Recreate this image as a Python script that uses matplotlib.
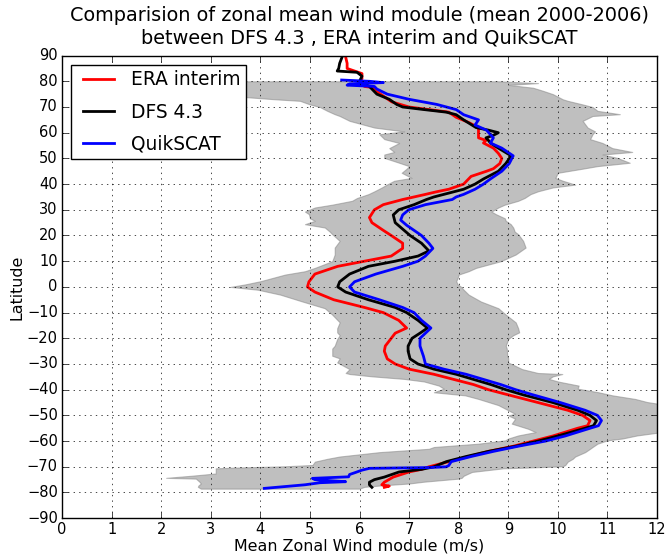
import matplotlib
matplotlib.use('Agg')
import matplotlib.pyplot as plt
import numpy as np

plt.style.use('classic')

# ERA interim zonal mean (lat, m/s)
era_lat = [89.5, 87, 85, 84, 83, 81, 80, 78, 77.5, 76, 74, 72, 70, 69, 68, 66, 64, 62, 60, 58,
           57, 56, 54, 52, 50, 48, 46, 45, 43, 41, 40, 38, 37, 36, 35, 34, 32, 30, 27, 25,
           22, 20, 17, 15, 12, 10, 8, 5, 2, 0, -2, -5, -8, -10, -13, -16, -18, -20, -23, -25,
           -28, -30, -32, -34, -36, -38, -40, -42, -45, -48, -50, -52, -54, -55, -58, -60, -62, -64, -66, -68,
           -70, -71, -72, -74, -76, -77, -77.5, -78]
era_val = [5.72, 5.75, 5.75, 5.9, 6.05, 6.05, 6.0, 6.1, 6.3, 6.35, 6.5, 6.65, 7.0, 7.4, 7.8, 7.95, 8.2, 8.4, 8.4, 8.4,
           8.55, 8.5, 8.7, 8.8, 8.87, 8.83, 8.7, 8.56, 8.25, 8.15, 8.1, 7.8, 7.55, 7.33, 7.1, 6.87, 6.48, 6.3, 6.2, 6.25,
           6.48, 6.64, 6.87, 6.87, 6.64, 6.1, 5.56, 5.1, 4.98, 4.95, 5.1, 5.48, 6.1, 6.48, 6.79, 6.95, 6.72, 6.64, 6.52, 6.5,
           6.56, 6.72, 7.0, 7.5, 7.9, 8.3, 8.6, 9.0, 9.6, 10.2, 10.5, 10.65, 10.6, 10.4, 9.9, 9.5, 9.1, 8.6, 8.2, 7.8,
           7.4, 7.25, 7.0, 6.68, 6.5, 6.45, 6.6, 6.5]

# DFS 4.3
dfs_lat = [89.5, 87, 85, 84, 83.5, 82, 80, 78, 77, 75, 73, 71, 70, 69, 68, 67, 65, 62, 61, 60, 59,
           58, 57, 56, 54, 51, 48, 45, 42, 40, 38, 36, 35, 34, 32, 30, 28, 25, 22, 20, 17,
           14, 12, 10, 8, 5, 2, 0, -2, -5, -8, -10, -13, -16, -18, -20, -23, -25, -28, -30, -32,
           -34, -36, -38, -40, -42, -45, -48, -50, -52, -54, -55, -58, -60, -62, -64, -66, -68, -70, -71, -72,
           -74, -75, -76, -77, -78]
dfs_val = [5.65, 5.6, 5.58, 5.55, 5.95, 6.05, 6.0, 6.2, 6.25, 6.35, 6.6, 6.75, 6.87, 7.3, 7.75, 7.95, 8.1, 8.35, 8.6, 8.8, 8.7,
           8.55, 8.6, 8.64, 8.8, 9.06, 8.95, 8.8, 8.5, 8.33, 8.1, 7.7, 7.5, 7.35, 7.1, 6.79, 6.68, 6.72, 6.9, 7.02, 7.25,
           7.4, 7.18, 6.72, 6.18, 5.8, 5.6, 5.56, 5.72, 6.18, 6.72, 6.95, 7.18, 7.37, 7.22, 7.06, 6.98, 6.98, 7.02, 7.18, 7.5,
           7.95, 8.3, 8.65, 8.95, 9.3, 9.9, 10.4, 10.65, 10.78, 10.72, 10.55, 10.0, 9.6, 9.15, 8.6, 8.15, 7.75, 7.5, 7.25, 6.8,
           6.5, 6.3, 6.2, 6.2, 6.25]

# QuikSCAT
qs_lat = [80.5, 80, 79.5, 79, 78.5, 78, 77, 75, 73, 71, 69, 67, 65, 63, 61, 58, 56, 54, 51, 48,
          45, 42, 40, 38, 36, 35, 34, 32, 30, 28, 26, 24, 22, 20, 17, 15, 12, 10, 8, 5,
          2, 0, -2, -5, -8, -10, -13, -16, -18, -20, -23, -27, -30, -32, -34, -36, -38, -40, -42, -45,
          -48, -50, -52, -54, -55, -58, -60, -62, -64, -66, -68, -69.5, -70, -70.3, -70.6, -71.3, -72.2, -73, -73.9, -74.5,
          -75, -75.8, -76.2, -77, -78.4]
qs_val = [5.64, 6.2, 6.48, 5.8, 5.75, 6.3, 6.35, 6.56, 7.0, 7.56, 7.95, 8.1, 8.4, 8.33, 8.56, 8.7, 8.64, 8.87, 9.1, 9.02,
          8.87, 8.64, 8.5, 8.33, 8.1, 7.95, 7.87, 7.33, 6.99, 6.87, 6.83, 6.95, 7.1, 7.25, 7.4, 7.48, 7.33, 7.18, 6.87, 6.33,
          5.9, 5.8, 5.9, 6.4, 6.87, 7.1, 7.25, 7.44, 7.33, 7.22, 7.22, 7.29, 7.33, 7.7, 8.15, 8.5, 8.85, 9.15, 9.5, 10.05,
          10.55, 10.8, 10.88, 10.82, 10.65, 10.15, 9.75, 9.2, 8.7, 8.25, 7.85, 7.8, 7.75, 7.4, 6.2, 6.05, 5.92, 5.8, 5.78, 5.05,
          5.1, 5.72, 5.2, 4.9, 4.08]

# spread envelope (grey band)
band_lat = [80.0, 79.3, 78.6, 77.5, 76.3, 75.0, 74.0, 73.0, 72.4, 71.0, 70.0, 68.5, 67.2, 66.5, 64.6, 62.0, 60.5, 59.4, 57.5, 56.0,
            54.0, 52.5, 51.5, 50.2, 48.3, 47.0, 46.0, 44.4, 42.4, 41.3, 39.8, 38.7, 37.2, 36.1, 34.6, 33.5, 32.0, 30.9, 29.3, 28.3,
            26.7, 25.7, 24.4, 23.1, 21.5, 20.5, 17.9, 15.3, 12.6, 10.0, 7.4, 6.1, 4.8, 3.5, 2.2, 1.0, 0.0, -1.1, -3.0, -5.7,
            -8.3, -10.8, -13.8, -16.1, -17.7, -18.8, -20.3, -22.9, -24.0, -26.8, -27.8, -29.4, -32.0, -33.5, -33.9, -34.8, -35.8, -36.8, -38.4, -39.6,
            -41.0, -42.2, -43.6, -44.8, -46.0, -47.4, -49.4, -50.0, -51.3, -53.2, -55.2, -56.5, -57.8, -59.0, -59.7, -61.0, -62.3, -63.0, -64.3, -66.0,
            -66.9, -68.0, -69.3, -69.8, -70.3, -70.6, -72.0, -72.6, -73.5, -74.3, -74.6, -75.8, -76.5, -77.3, -77.8, -78.5]
band_lo = [2.0, 2.1, 2.3, 2.5, 2.8, 3.0, 3.6, 4.3, 4.8, 5.0, 5.2, 5.35, 5.5, 5.6, 5.8, 6.3, 6.9, 6.4, 6.5, 6.8,
           6.6, 6.7, 6.5, 6.5, 6.8, 7.0, 6.95, 6.85, 7.05, 6.7, 6.55, 6.45, 6.3, 6.18, 5.95, 5.85, 5.45, 5.1, 4.9, 4.98,
           5.0, 5.1, 4.9, 5.3, 5.4, 5.45, 5.6, 5.5, 5.5, 5.45, 5.1, 4.9, 4.5, 4.25, 4.0, 3.7, 3.4, 3.95, 4.4, 4.85,
           5.3, 5.45, 5.6, 5.55, 5.55, 5.6, 5.55, 5.5, 5.45, 5.45, 5.6, 5.55, 5.8, 5.72, 5.8, 6.25, 6.9, 7.3, 7.6, 7.7,
           7.5, 8.13, 8.4, 8.6, 8.8, 8.94, 9.14, 9.0, 9.14, 9.07, 9.4, 9.55, 9.2, 9.0, 8.94, 8.4, 7.5, 7.4, 6.4, 5.6,
           5.35, 5.1, 5.05, 4.5, 3.5, 3.1, 3.1, 3.1, 2.6, 2.1, 2.7, 2.77, 2.8, 2.75, 2.74, 2.8]
band_hi = [8.8, 9.6, 9.0, 9.5, 9.7, 9.9, 10.0, 10.1, 10.2, 10.5, 10.7, 10.8, 11.25, 10.7, 10.5, 10.6, 10.75, 10.7, 10.65, 10.9,
           11.1, 11.5, 10.9, 11.2, 11.45, 10.8, 10.5, 10.0, 9.95, 10.1, 10.35, 9.9, 9.6, 9.45, 9.33, 9.2, 8.93, 8.8, 8.66, 8.75,
           8.93, 8.95, 9.05, 9.1, 9.13, 9.2, 9.3, 9.35, 9.15, 8.85, 8.35, 8.2, 8.0, 7.98, 7.95, 7.98, 8.05, 8.1, 8.2, 8.45,
           8.8, 8.95, 9.15, 9.2, 9.22, 9.1, 9.0, 8.95, 8.97, 8.98, 9.0, 9.0, 9.28, 9.6, 10.09, 9.9, 9.82, 10.0, 10.42, 10.4,
           10.82, 11.1, 11.56, 11.8, 12.2, 12.4, 12.4, 12.4, 12.4, 12.4, 12.4, 12.1, 11.6, 11.3, 11.0, 10.8, 10.7, 10.65, 10.55, 10.35,
           10.3, 10.2, 10.15, 10.1, 9.4, 8.9, 8.27, 8.2, 8.1, 8.06, 8.0, 7.3, 7.0, 6.4, 6.1, 6.0]

fig = plt.figure(figsize=(6.67, 5.56), dpi=100, facecolor='white')
ax = fig.add_axes([0.093, 0.068, 0.892, 0.832])

ax.fill_betweenx(band_lat, band_lo, band_hi, facecolor='grey', edgecolor='grey',
                 alpha=0.5, linewidth=0.8)

ax.plot(era_val, era_lat, color='red', lw=2, label='ERA interim')
ax.plot(dfs_val, dfs_lat, color='black', lw=2, label='DFS 4.3')
ax.plot(qs_val, qs_lat, color='blue', lw=2, label='QuikSCAT')

ax.set_xlim(0, 12)
ax.set_ylim(-90, 90)
ax.set_xticks(np.arange(0, 13, 1))
ax.set_yticks(np.arange(-90, 91, 10))
ax.tick_params(labelsize=10.5, pad=3)
ax.grid(True)

ax.set_xlabel('Mean Zonal Wind module (m/s)', fontsize=11.4, labelpad=1)
ax.set_ylabel('Latitude', fontsize=11.4, labelpad=2)
ax.set_title('Comparision of zonal mean wind module (mean 2000-2006)\nbetween DFS 4.3 , ERA interim and QuikSCAT',
             fontsize=13.9, pad=9)

leg = ax.legend(loc='upper left', fontsize=13.4, numpoints=2, labelspacing=0.7,
                borderpad=0.3, handlelength=2.3, handletextpad=0.6, borderaxespad=0.5)
leg.get_frame().set_linewidth(1)

fig.savefig('out.png', dpi=100, facecolor='white')
